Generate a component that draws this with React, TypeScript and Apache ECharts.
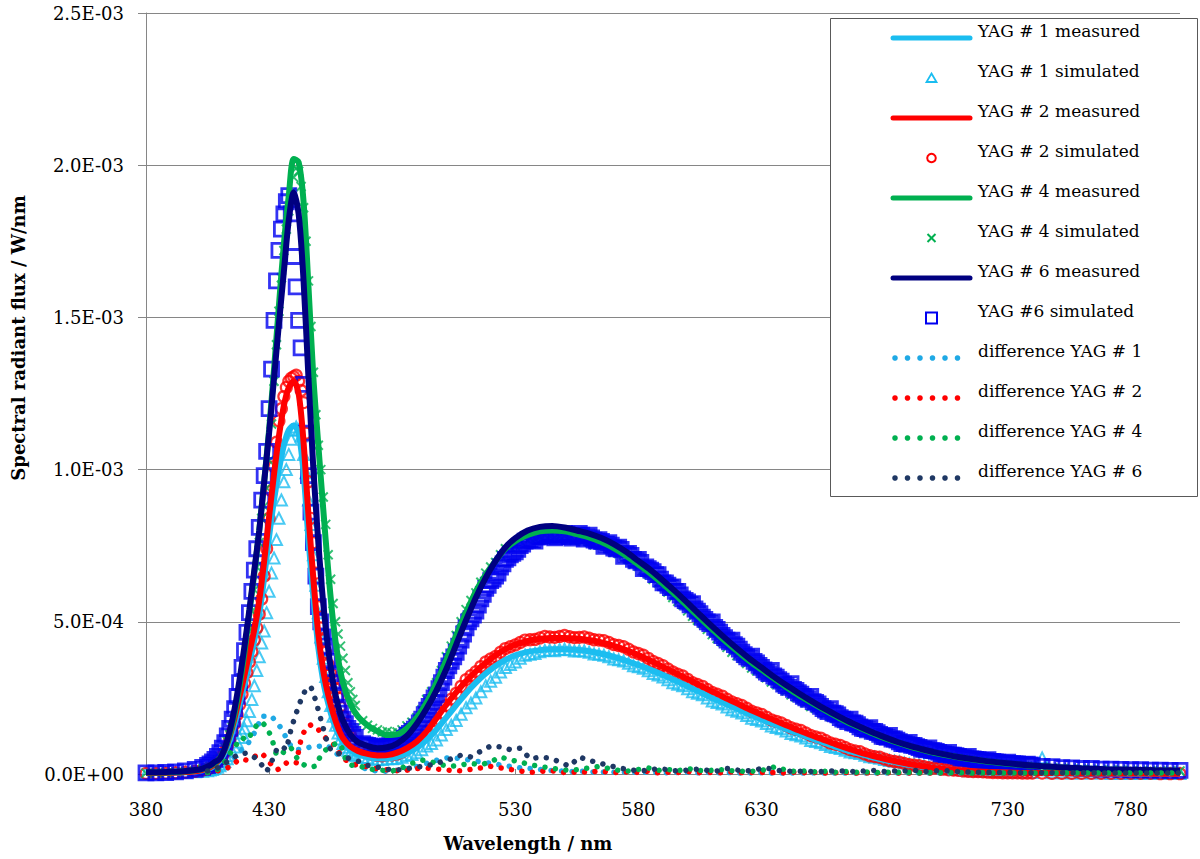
import React, { useEffect, useRef } from 'react';
import * as echarts from 'echarts';

// ---------- measured spectra (values in 1E-03 W/nm) ----------
const measWl = [
  380, 385, 390, 395, 400, 403, 406, 408,
  410, 412, 414, 416, 418, 420, 422, 424, 426, 428,
  430, 432, 434, 436, 438, 440, 442, 444, 446, 448,
  450, 452, 454, 456, 458, 460, 463, 466,
  470, 474, 478, 482, 486, 490, 494, 498, 502,
  506, 510, 514, 518, 522, 526, 530,
  535, 540, 545, 550, 555, 560, 565, 570, 575, 580,
  585, 590, 595, 600, 605, 610, 615, 620, 625, 630,
  635, 640, 645, 650, 655, 660, 665, 670, 675, 680,
  685, 690, 695, 700,
  710, 720, 730, 740, 750, 760, 770, 780, 790, 800,
];
const meas1 = [
  0.003, 0.003, 0.004, 0.005, 0.008, 0.012, 0.019, 0.029,
  0.044, 0.07, 0.11, 0.165, 0.23, 0.295, 0.365, 0.44, 0.525, 0.645,
  0.78, 0.9, 1.0, 1.08, 1.13, 1.145, 1.12, 0.99, 0.77, 0.58,
  0.415, 0.305, 0.232, 0.175, 0.133, 0.103, 0.078, 0.064,
  0.056, 0.051, 0.051, 0.056, 0.068, 0.086, 0.112, 0.146, 0.186,
  0.226, 0.265, 0.3, 0.33, 0.355, 0.375, 0.39,
  0.401, 0.407, 0.41, 0.41, 0.408, 0.403, 0.395, 0.385, 0.372, 0.358,
  0.342, 0.325, 0.307, 0.288, 0.269, 0.25, 0.232, 0.214, 0.197, 0.18,
  0.164, 0.148, 0.133, 0.118, 0.104, 0.09, 0.077, 0.066, 0.055, 0.046,
  0.038, 0.03, 0.024, 0.018,
  0.011, 0.006, 0.004, 0.003, 0.002, 0.002, 0.002, 0.001, 0.001, 0.001,
];
const meas2 = [
  0.003, 0.003, 0.004, 0.006, 0.009, 0.014, 0.022, 0.033,
  0.05, 0.08, 0.125, 0.185, 0.255, 0.325, 0.4, 0.475, 0.57, 0.7,
  0.845, 0.985, 1.11, 1.21, 1.27, 1.29, 1.25, 1.09, 0.85, 0.64,
  0.46, 0.34, 0.26, 0.2, 0.152, 0.118, 0.09, 0.076,
  0.066, 0.061, 0.062, 0.07, 0.085, 0.107, 0.14, 0.183, 0.228,
  0.268, 0.305, 0.337, 0.365, 0.39, 0.41, 0.425,
  0.437, 0.444, 0.447, 0.447, 0.445, 0.44, 0.432, 0.421, 0.407, 0.391,
  0.372, 0.352, 0.332, 0.312, 0.291, 0.271, 0.251, 0.232, 0.213, 0.195,
  0.177, 0.16, 0.144, 0.128, 0.113, 0.098, 0.084, 0.071, 0.06, 0.05,
  0.041, 0.033, 0.026, 0.02,
  0.012, 0.007, 0.005, 0.003, 0.003, 0.002, 0.002, 0.002, 0.001, 0.001,
];
const meas4 = [
  0.005, 0.005, 0.006, 0.008, 0.012, 0.017, 0.026, 0.037,
  0.052, 0.083, 0.13, 0.2, 0.29, 0.4, 0.53, 0.66, 0.8, 0.96,
  1.13, 1.33, 1.54, 1.74, 1.9, 2.02, 2.01, 1.88, 1.6, 1.3,
  1.08, 0.87, 0.67, 0.5, 0.38, 0.3, 0.23, 0.19,
  0.16, 0.14, 0.128, 0.13, 0.15, 0.185, 0.235, 0.3, 0.375,
  0.455, 0.53, 0.6, 0.655, 0.7, 0.74, 0.765,
  0.785, 0.797, 0.8, 0.797, 0.788, 0.777, 0.762, 0.742, 0.717, 0.688,
  0.658, 0.624, 0.589, 0.551, 0.513, 0.475, 0.439, 0.405, 0.372, 0.343,
  0.314, 0.286, 0.26, 0.236, 0.213, 0.191, 0.17, 0.152, 0.134, 0.118,
  0.104, 0.091, 0.08, 0.07,
  0.055, 0.043, 0.034, 0.027, 0.022, 0.018, 0.015, 0.013, 0.011, 0.01,
];
const meas6 = [
  0.006, 0.006, 0.007, 0.009, 0.013, 0.018, 0.028, 0.04,
  0.05, 0.085, 0.14, 0.215, 0.31, 0.42, 0.54, 0.67, 0.8, 0.96,
  1.12, 1.3, 1.48, 1.65, 1.82, 1.91, 1.84, 1.62, 1.3, 1.0,
  0.76, 0.56, 0.41, 0.3, 0.225, 0.175, 0.13, 0.105,
  0.092, 0.085, 0.088, 0.1, 0.125, 0.165, 0.215, 0.275, 0.345,
  0.425, 0.505, 0.58, 0.645, 0.7, 0.745, 0.775,
  0.8, 0.812, 0.815, 0.81, 0.8, 0.79, 0.775, 0.755, 0.73, 0.7,
  0.67, 0.636, 0.6, 0.562, 0.523, 0.485, 0.448, 0.413, 0.38, 0.35,
  0.32, 0.292, 0.266, 0.241, 0.217, 0.195, 0.174, 0.155, 0.137, 0.121,
  0.106, 0.093, 0.082, 0.072,
  0.056, 0.044, 0.035, 0.028, 0.023, 0.019, 0.016, 0.014, 0.012, 0.011,
];

// ---------- simulated spectra ----------
const simWl = [
  380, 384, 388, 392, 396, 400, 403,
  405, 406, 407, 408, 409, 410, 411, 412, 413, 414,
  415, 416, 417, 418, 419, 420, 421, 422, 423, 424,
  425, 426, 427, 428, 429, 430, 431, 432, 433, 434,
  435, 436, 437, 438, 439, 440, 441, 442, 443, 444,
  445, 446, 447, 448, 449, 450, 451, 452, 453, 454,
  455, 456, 457, 458, 459, 460, 461, 462, 463, 464,
  465,
  468, 472, 476, 480, 484, 488, 492, 496, 500, 504,
  508, 512, 516, 520, 524, 528, 532, 536, 540, 544,
  548, 552, 556, 560, 564, 568, 572, 576, 580, 584,
  588, 592, 596, 600, 604, 608, 612, 616, 620, 624,
  628, 632, 636, 640, 644, 648, 652, 656, 660, 664,
  668, 672, 676, 680, 684, 688, 692, 696, 700, 704,
  708, 712, 716, 720, 724, 728, 732, 736, 740, 744,
  748, 752, 756, 760, 764, 768, 772, 776, 780, 784,
  788, 792, 796, 800,
];
// in-between simulated wavelengths
const simWlB = [
  470, 474, 478, 482, 486, 490, 494, 498, 502, 506,
  510, 514, 518, 522, 526, 530, 534, 538, 542, 546,
  550, 554, 558, 562, 566, 570, 574, 578, 582, 586,
  590, 594, 598, 602, 606, 610, 614, 618, 622, 626,
  630, 634, 638, 642, 646, 650, 654, 658, 662, 666,
  670, 674, 678, 682, 686, 690, 694, 698, 702, 706,
  710, 714, 718, 722, 726, 730, 734, 738,
];
const simWlC = [
  469, 473, 477, 481, 485, 489, 493, 497, 501, 505,
  509, 513, 517, 521, 525, 529, 533, 537, 541, 545,
  549, 553, 557, 561, 565, 569, 573, 577, 581, 585,
  589, 593, 597, 601, 605, 609, 613, 617, 621, 625,
  629, 633, 637, 641, 645, 649, 653, 657, 661, 665,
  669, 673, 677, 681, 685, 689, 693, 697, 701, 705,
  709, 713, 717, 721, 725, 729, 733, 737,
];
const simWlD = [
  471, 475, 479, 483, 487, 491, 495, 499, 503, 507,
  511, 515, 519, 523, 527, 531, 535, 539, 543, 547,
  551, 555, 559, 563, 567, 571, 575, 579, 583, 587,
  591, 595, 599, 603, 607, 611, 615, 619, 623, 627,
  631, 635, 639, 643, 647, 651, 655, 659, 663, 667,
  671, 675, 679, 683, 687, 691, 695, 699, 703, 707,
  711, 715, 719, 723, 727, 731, 735, 739,
];
const sim1 = [
  0.002, 0.002, 0.003, 0.004, 0.005, 0.007, 0.009,
  0.011, 0.013, 0.015, 0.018, 0.022, 0.027, 0.033, 0.041, 0.05, 0.061,
  0.074, 0.089, 0.105, 0.12, 0.135, 0.15, 0.175, 0.205, 0.245, 0.29,
  0.34, 0.385, 0.43, 0.47, 0.53, 0.6, 0.66, 0.71, 0.77, 0.84,
  0.9, 0.96, 1.0, 1.05, 1.1, 1.13, 1.14, 1.13, 1.11, 1.05,
  0.99, 0.9, 0.82, 0.72, 0.62, 0.53, 0.45, 0.38, 0.32, 0.27,
  0.225, 0.19, 0.16, 0.135, 0.115, 0.1, 0.088, 0.078, 0.07, 0.064,
  0.06,
  0.054, 0.05, 0.048, 0.05, 0.055, 0.064, 0.08, 0.1, 0.128, 0.16,
  0.196, 0.233, 0.27, 0.305, 0.335, 0.36, 0.38, 0.393, 0.402, 0.407,
  0.409, 0.408, 0.405, 0.4, 0.393, 0.385, 0.375, 0.364, 0.352, 0.339,
  0.325, 0.31, 0.295, 0.28, 0.265, 0.25, 0.235, 0.22, 0.206, 0.192,
  0.179, 0.166, 0.153, 0.141, 0.129, 0.118, 0.107, 0.097, 0.087, 0.078,
  0.07, 0.062, 0.055, 0.048, 0.042, 0.036, 0.031, 0.027, 0.023, 0.019,
  0.016, 0.013, 0.011, 0.009, 0.008, 0.007, 0.006, 0.005, 0.005, 0.053,
  0.004, 0.004, 0.003, 0.003, 0.003, 0.003, 0.002, 0.002, 0.002, 0.002,
  0.002, 0.002, 0.002, 0.002,
];
const sim1B = [
  0.053, 0.047, 0.05, 0.051, 0.061, 0.07, 0.092, 0.112, 0.146, 0.176,
  0.218, 0.25, 0.29, 0.318, 0.35, 0.368, 0.39, 0.396, 0.406, 0.405,
  0.41, 0.404, 0.404, 0.394, 0.39, 0.378, 0.371, 0.356, 0.347, 0.33,
  0.319, 0.3, 0.29, 0.27, 0.26, 0.24, 0.23, 0.211, 0.2, 0.183,
  0.174, 0.158, 0.149, 0.133, 0.125, 0.11, 0.103, 0.09, 0.084, 0.072,
  0.067, 0.057, 0.052, 0.044, 0.04, 0.033, 0.03, 0.024, 0.022, 0.017,
  0.015, 0.011, 0.01, 0.008, 0.008, 0.006, 0.006, 0.005,
];
const sim2 = [
  0.002, 0.002, 0.003, 0.004, 0.006, 0.009, 0.013,
  0.017, 0.02, 0.025, 0.031, 0.039, 0.048, 0.06, 0.074, 0.092, 0.113,
  0.138, 0.165, 0.195, 0.228, 0.262, 0.298, 0.333, 0.368, 0.402, 0.44,
  0.48, 0.525, 0.575, 0.65, 0.74, 0.84, 0.93, 1.01, 1.09, 1.16,
  1.2, 1.24, 1.27, 1.29, 1.3, 1.305, 1.31, 1.29, 1.26, 1.22,
  1.12, 0.96, 0.84, 0.76, 0.66, 0.55, 0.48, 0.44, 0.4, 0.36,
  0.33, 0.31, 0.28, 0.25, 0.22, 0.19, 0.165, 0.145, 0.128, 0.113,
  0.1,
  0.078, 0.065, 0.06, 0.063, 0.073, 0.092, 0.12, 0.158, 0.2, 0.246,
  0.288, 0.323, 0.353, 0.378, 0.4, 0.418, 0.432, 0.441, 0.447, 0.45,
  0.452, 0.451, 0.449, 0.446, 0.44, 0.432, 0.422, 0.41, 0.396, 0.38,
  0.363, 0.345, 0.328, 0.311, 0.294, 0.278, 0.262, 0.246, 0.231, 0.216,
  0.201, 0.187, 0.173, 0.16, 0.147, 0.135, 0.122, 0.11, 0.098, 0.087,
  0.076, 0.066, 0.057, 0.049, 0.041, 0.035, 0.029, 0.024, 0.02, 0.016,
  0.013, 0.01, 0.008, 0.007, 0.005, 0.004, 0.004, 0.003, 0.003, 0.003,
  0.002, 0.002, 0.002, 0.002, 0.002, 0.002, 0.002, 0.002, 0.002, 0.002,
  0.002, 0.001, 0.001, 0.001,
];
const sim2B = [
  0.07, 0.061, 0.063, 0.066, 0.083, 0.104, 0.14, 0.175, 0.225, 0.265,
  0.31, 0.336, 0.368, 0.386, 0.412, 0.424, 0.44, 0.442, 0.452, 0.449,
  0.455, 0.448, 0.45, 0.441, 0.438, 0.425, 0.418, 0.401, 0.39, 0.37,
  0.356, 0.335, 0.322, 0.3, 0.288, 0.268, 0.256, 0.237, 0.225, 0.206,
  0.196, 0.178, 0.168, 0.152, 0.143, 0.127, 0.118, 0.102, 0.094, 0.08,
  0.073, 0.06, 0.055, 0.044, 0.039, 0.031, 0.027, 0.021, 0.019, 0.014,
  0.012, 0.009, 0.008, 0.006, 0.005, 0.004, 0.004, 0.003,
];
const sim4 = [
  0.003, 0.003, 0.004, 0.005, 0.007, 0.011, 0.016,
  0.021, 0.025, 0.03, 0.037, 0.046, 0.057, 0.071, 0.088, 0.108, 0.13,
  0.155, 0.185, 0.22, 0.26, 0.305, 0.355, 0.41, 0.47, 0.535, 0.605,
  0.68, 0.76, 0.84, 0.88, 0.94, 1.03, 1.15, 1.29, 1.41, 1.52,
  1.63, 1.72, 1.79, 1.85, 1.91, 1.96, 1.99, 1.98, 1.93, 1.86,
  1.75, 1.62, 1.47, 1.32, 1.18, 1.08, 1.0, 0.91, 0.82, 0.72,
  0.64, 0.56, 0.5, 0.46, 0.42, 0.38, 0.34, 0.3, 0.27, 0.245,
  0.225,
  0.175, 0.15, 0.138, 0.135, 0.145, 0.17, 0.21, 0.27, 0.34, 0.42,
  0.5, 0.57, 0.63, 0.68, 0.72, 0.745, 0.765, 0.775, 0.78, 0.782,
  0.78, 0.775, 0.77, 0.762, 0.752, 0.74, 0.724, 0.705, 0.682, 0.656,
  0.628, 0.598, 0.567, 0.536, 0.505, 0.475, 0.445, 0.416, 0.389, 0.363,
  0.339, 0.316, 0.294, 0.273, 0.253, 0.234, 0.216, 0.199, 0.183, 0.168,
  0.153, 0.14, 0.127, 0.115, 0.104, 0.094, 0.085, 0.076, 0.069, 0.062,
  0.056, 0.05, 0.045, 0.041, 0.037, 0.033, 0.03, 0.027, 0.025, 0.023,
  0.021, 0.019, 0.018, 0.016, 0.015, 0.014, 0.013, 0.013, 0.012, 0.011,
  0.011, 0.01, 0.01, 0.01,
];
const sim4B = [
  0.16, 0.145, 0.14, 0.138, 0.158, 0.185, 0.245, 0.3, 0.385, 0.455,
  0.54, 0.595, 0.66, 0.695, 0.74, 0.75, 0.775, 0.772, 0.786, 0.776,
  0.782, 0.768, 0.77, 0.753, 0.75, 0.728, 0.72, 0.69, 0.672, 0.64,
  0.617, 0.58, 0.556, 0.518, 0.495, 0.458, 0.434, 0.4, 0.38, 0.348,
  0.33, 0.302, 0.286, 0.26, 0.246, 0.222, 0.21, 0.189, 0.177, 0.158,
  0.148, 0.132, 0.123, 0.108, 0.1, 0.088, 0.082, 0.071, 0.067, 0.058,
  0.054, 0.047, 0.044, 0.038, 0.036, 0.031, 0.029, 0.026,
];
const sim6 = [
  0.004, 0.004, 0.005, 0.007, 0.01, 0.015, 0.022,
  0.028, 0.033, 0.04, 0.048, 0.058, 0.07, 0.085, 0.103, 0.125, 0.15,
  0.18, 0.215, 0.255, 0.3, 0.35, 0.405, 0.465, 0.53, 0.6, 0.67,
  0.74, 0.81, 0.9, 0.98, 1.06, 1.2, 1.33, 1.49, 1.62, 1.72,
  1.79, 1.84, 1.88, 1.9, 1.84, 1.7, 1.6, 1.49, 1.4, 1.28,
  1.12, 0.98, 0.86, 0.76, 0.65, 0.55, 0.5, 0.45, 0.42, 0.37,
  0.33, 0.3, 0.26, 0.22, 0.2, 0.18, 0.165, 0.15, 0.14, 0.13,
  0.12,
  0.1, 0.09, 0.088, 0.095, 0.11, 0.14, 0.18, 0.235, 0.3, 0.37,
  0.44, 0.51, 0.575, 0.635, 0.68, 0.72, 0.75, 0.77, 0.78, 0.785,
  0.785, 0.78, 0.79, 0.785, 0.77, 0.76, 0.745, 0.725, 0.705, 0.675,
  0.655, 0.62, 0.6, 0.565, 0.535, 0.5, 0.475, 0.44, 0.42, 0.385,
  0.365, 0.335, 0.318, 0.29, 0.275, 0.25, 0.235, 0.21, 0.198, 0.178,
  0.167, 0.149, 0.14, 0.123, 0.115, 0.1, 0.094, 0.082, 0.077, 0.066,
  0.062, 0.053, 0.05, 0.043, 0.041, 0.036, 0.034, 0.03, 0.029, 0.025,
  0.024, 0.021, 0.02, 0.018, 0.018, 0.016, 0.016, 0.015, 0.014, 0.014,
  0.013, 0.013, 0.012, 0.012,
];
const sim6B = [
  0.094, 0.085, 0.092, 0.1, 0.128, 0.155, 0.21, 0.26, 0.34, 0.4,
  0.48, 0.535, 0.61, 0.65, 0.705, 0.73, 0.765, 0.765, 0.788, 0.776,
  0.79, 0.782, 0.772, 0.768, 0.748, 0.742, 0.715, 0.705, 0.675, 0.665,
  0.628, 0.615, 0.575, 0.56, 0.515, 0.5, 0.455, 0.44, 0.4, 0.387,
  0.35, 0.34, 0.305, 0.297, 0.262, 0.255, 0.222, 0.215, 0.185, 0.18,
  0.155, 0.152, 0.13, 0.127, 0.106, 0.104, 0.087, 0.086, 0.071, 0.071,
  0.058, 0.058, 0.047, 0.047, 0.039, 0.039, 0.033, 0.032,
];
const sim6C = [
  0.096, 0.088, 0.088, 0.097, 0.118, 0.147, 0.195, 0.25, 0.318, 0.385,
  0.46, 0.522, 0.59, 0.64, 0.69, 0.725, 0.755, 0.768, 0.782, 0.785,
  0.787, 0.775, 0.785, 0.776, 0.764, 0.752, 0.738, 0.718, 0.695, 0.67,
  0.64, 0.612, 0.588, 0.556, 0.527, 0.494, 0.466, 0.434, 0.41, 0.38,
  0.357, 0.33, 0.31, 0.285, 0.267, 0.245, 0.23, 0.205, 0.194, 0.172,
  0.162, 0.145, 0.136, 0.12, 0.111, 0.097, 0.09, 0.079, 0.074, 0.064,
  0.06, 0.052, 0.048, 0.043, 0.04, 0.035, 0.033, 0.03,
];
const sim6D = [
  0.092, 0.086, 0.093, 0.104, 0.133, 0.168, 0.222, 0.28, 0.355, 0.42,
  0.5, 0.555, 0.62, 0.66, 0.71, 0.738, 0.768, 0.778, 0.79, 0.78,
  0.788, 0.784, 0.778, 0.765, 0.755, 0.74, 0.722, 0.7, 0.68, 0.655,
  0.628, 0.6, 0.57, 0.542, 0.508, 0.482, 0.448, 0.425, 0.392, 0.37,
  0.342, 0.322, 0.295, 0.278, 0.255, 0.238, 0.215, 0.2, 0.18, 0.168,
  0.15, 0.14, 0.124, 0.115, 0.1, 0.094, 0.082, 0.077, 0.066, 0.062,
  0.053, 0.05, 0.044, 0.041, 0.036, 0.034, 0.03, 0.029,
];

// ---------- differences ----------
const diffWl = [
  405, 407, 409, 411, 413, 415, 417, 419, 421, 423,
  425, 427, 429, 431, 433, 435, 437, 439, 441, 443,
  445, 447, 449, 451, 453, 455, 457, 459, 461, 463,
  465, 467, 469,
  472, 476, 480, 484, 488, 492, 496, 500, 504, 508,
  512, 516, 520, 524, 528, 532, 536, 540, 544, 548,
  552, 556, 560, 564, 568, 572, 576, 580, 584, 588,
  592, 596, 600, 604, 608, 612, 616, 620, 624, 628,
  632, 636, 640, 644, 648, 652, 656, 660, 664, 668,
  672, 676, 680, 684, 688, 692, 696, 700, 704, 708,
  712, 716, 720, 724, 728, 732, 736, 740, 744, 748,
  752, 756, 760, 764, 768, 772, 776, 780, 784, 788,
  792, 796, 800,
];
const diff1 = [
  0.005, 0.008, 0.012, 0.02, 0.03, 0.045, 0.065, 0.08, 0.095, 0.12,
  0.15, 0.19, 0.19, 0.19, 0.17, 0.15, 0.118, 0.09, 0.079, 0.082,
  0.085, 0.089, 0.09, 0.092, 0.095, 0.085, 0.07, 0.056, 0.05, 0.04,
  0.03, 0.023, 0.018,
  0.012, 0.008, 0.01, 0.015, 0.02, 0.03, 0.04, 0.05, 0.055, 0.05,
  0.045, 0.04, 0.035, 0.03, 0.025, 0.02, 0.018, 0.015, 0.012, 0.01,
  0.008, 0.01, 0.006, 0.008, 0.005, 0.007, 0.006, 0.005, 0.006, 0.005,
  0.004, 0.005, 0.006, 0.004, 0.005, 0.004, 0.005, 0.004, 0.003, 0.004,
  0.004, 0.003, 0.004, 0.003, 0.003, 0.004, 0.003, 0.003, 0.003, 0.003,
  0.003, 0.003, 0.003, 0.003, 0.003, 0.003, 0.003, 0.003, 0.003, 0.003,
  0.003, 0.003, 0.003, 0.003, 0.003, 0.002, 0.002, 0.002, 0.002, 0.002,
  0.002, 0.002, 0.002, 0.002, 0.002, 0.002, 0.002, 0.002, 0.002, 0.002,
  0.002, 0.002, 0.002,
];
const diff2 = [
  0.005, 0.008, 0.01, 0.015, 0.02, 0.026, 0.043, 0.05, 0.045, 0.055,
  0.06, 0.069, 0.05, 0.03, 0.013, 0.02, 0.036, 0.04, 0.036, 0.115,
  0.154, 0.161, 0.158, 0.135, 0.118, 0.1, 0.095, 0.06, 0.046, 0.04,
  0.03, 0.03, 0.025,
  0.02, 0.015, 0.012, 0.01, 0.015, 0.02, 0.018, 0.015, 0.012, 0.01,
  0.015, 0.02, 0.025, 0.02, 0.015, 0.01, 0.005, 0.008, 0.012, 0.006,
  0.004, 0.008, 0.005, 0.01, 0.006, 0.004, 0.007, 0.005, 0.009, 0.004,
  0.006, 0.005, 0.008, 0.004, 0.006, 0.003, 0.007, 0.005, 0.004, 0.006,
  0.004, 0.005, 0.003, 0.006, 0.004, 0.005, 0.003, 0.004, 0.005, 0.003,
  0.004, 0.003, 0.005, 0.003, 0.004, 0.003, 0.003, 0.004, 0.003, 0.003,
  0.003, 0.002, 0.003, 0.002, 0.003, 0.002, 0.002, 0.003, 0.002, 0.002,
  0.002, 0.002, 0.002, 0.002, 0.002, 0.002, 0.002, 0.002, 0.002, 0.002,
  0.002, 0.002, 0.002,
];
const diff4 = [
  0.005, 0.01, 0.015, 0.03, 0.05, 0.08, 0.1, 0.12, 0.11, 0.135,
  0.161, 0.171, 0.154, 0.12, 0.062, 0.062, 0.085, 0.085, 0.056, 0.036,
  0.026, 0.023, 0.026, 0.062, 0.079, 0.089, 0.1, 0.1, 0.05, 0.03,
  0.026, 0.026, 0.02,
  0.015, 0.012, 0.01, 0.02, 0.035, 0.046, 0.04, 0.03, 0.025, 0.03,
  0.035, 0.03, 0.04, 0.056, 0.046, 0.04, 0.03, 0.025, 0.02, 0.015,
  0.012, 0.015, 0.02, 0.025, 0.018, 0.012, 0.01, 0.015, 0.02, 0.012,
  0.015, 0.01, 0.018, 0.012, 0.01, 0.015, 0.012, 0.01, 0.008, 0.01,
  0.015, 0.025, 0.012, 0.008, 0.01, 0.007, 0.009, 0.006, 0.008, 0.006,
  0.007, 0.005, 0.006, 0.005, 0.006, 0.005, 0.004, 0.005, 0.004, 0.004,
  0.004, 0.003, 0.004, 0.003, 0.003, 0.003, 0.003, 0.003, 0.003, 0.003,
  0.003, 0.003, 0.003, 0.003, 0.003, 0.003, 0.003, 0.003, 0.003, 0.003,
  0.003, 0.003, 0.003,
];
const diff6 = [
  0.01, 0.015, 0.02, 0.03, 0.04, 0.05, 0.062, 0.066, 0.069, 0.06,
  0.05, 0.03, 0.008, 0.04, 0.079, 0.092, 0.08, 0.15, 0.2, 0.245,
  0.28, 0.286, 0.24, 0.18, 0.12, 0.08, 0.07, 0.065, 0.055, 0.05,
  0.045, 0.04, 0.03,
  0.025, 0.02, 0.012, 0.015, 0.02, 0.025, 0.03, 0.04, 0.05, 0.062,
  0.056, 0.075, 0.092, 0.089, 0.08, 0.085, 0.05, 0.055, 0.052, 0.04,
  0.025, 0.056, 0.045, 0.036, 0.028, 0.02, 0.015, 0.01, 0.012, 0.018,
  0.014, 0.01, 0.013, 0.016, 0.012, 0.01, 0.018, 0.013, 0.01, 0.015,
  0.02, 0.012, 0.01, 0.008, 0.01, 0.007, 0.009, 0.01, 0.01, 0.008,
  0.01, 0.012, 0.008, 0.01, 0.01, 0.012, 0.008, 0.01, 0.012, 0.009,
  0.007, 0.006, 0.006, 0.005, 0.005, 0.005, 0.004, 0.004, 0.004, 0.004,
  0.004, 0.004, 0.004, 0.004, 0.003, 0.003, 0.003, 0.003, 0.003, 0.003,
  0.003, 0.003, 0.003,
];

const legendLabels = [
  'YAG # 1 measured',
  'YAG # 1 simulated',
  'YAG # 2 measured',
  'YAG # 2 simulated',
  'YAG # 4 measured',
  'YAG # 4 simulated',
  'YAG # 6 measured',
  'YAG #6 simulated',
  'difference YAG # 1',
  'difference YAG # 2',
  'difference YAG # 4',
  'difference YAG # 6',
];

const C_CYAN = '#1BBDF0';
const C_CYAN_DOT = '#1FA9E5';
const C_RED = '#FF0000';
const C_GREEN = '#00B050';
const C_NAVY = '#000080';
const C_BLUE = '#0000F0';
const C_DARK = '#1F3864';

const FONT = '"DejaVu Serif", "Liberation Serif", serif';
const X_SYMBOL = 'path://M0,0L10,10M10,0L0,10';

function pairs(xs: number[], ys: number[]) {
  const n = Math.min(xs.length, ys.length);
  const out: number[][] = [];
  for (let i = 0; i < n; i++) out.push([xs[i], ys[i]]);
  return out;
}

function fmtExp(v: number) {
  const w = v * 1e-3;
  if (Math.abs(w) < 1e-12) return '0.0E+00';
  const s = w.toExponential(1);
  const [m, e] = s.split('e');
  const n = parseInt(e, 10);
  return m + 'E' + (n < 0 ? '-' : '+') + String(Math.abs(n)).padStart(2, '0');
}

function lineSeries(name: string, xs: number[], ys: number[], color: string) {
  return {
    name,
    type: 'line',
    data: pairs(xs, ys),
    showSymbol: false,
    smooth: 0.3,
    lineStyle: { color, width: 6 },
    itemStyle: { color },
  };
}

function scatterSeries(name: string, data: number[][], color: string, symbol: string, size: number, bw: number) {
  return {
    name,
    type: 'scatter',
    data,
    symbol,
    symbolSize: size,
    itemStyle: { color: 'rgba(255,255,255,0)', borderColor: color, borderWidth: bw },
  };
}

function dotSeries(name: string, xs: number[], ys: number[], color: string) {
  return {
    name,
    type: 'line',
    data: pairs(xs, ys),
    showSymbol: false,
    smooth: false,
    lineStyle: { color, width: 5.5, type: [0.01, 10.5], cap: 'round' },
    itemStyle: { color },
  };
}

function buildLegend() {
  const els: any[] = [];
  els.push({
    type: 'rect',
    z: 100,
    shape: { x: 830.5, y: 18.5, width: 367, height: 478 },
    style: { fill: '#ffffff', stroke: '#595959', lineWidth: 1 },
  });
  const cx = 931.5;
  const lineColors: Record<number, string> = { 0: C_CYAN, 2: C_RED, 4: C_GREEN, 6: C_NAVY };
  const dotColors: Record<number, string> = { 8: C_CYAN_DOT, 9: C_RED, 10: C_GREEN, 11: C_DARK };
  legendLabels.forEach((label, i) => {
    const ty = 31 + 40 * i;
    const iy = ty + 7;
    els.push({
      type: 'text',
      z: 101,
      x: 978,
      y: ty,
      style: {
        text: label,
        fill: '#000',
        fontFamily: FONT,
        fontSize: 17,
        align: 'left',
        verticalAlign: 'middle',
        textAlign: 'left',
        textVerticalAlign: 'middle',
      },
    });
    if (lineColors[i]) {
      els.push({
        type: 'line',
        z: 101,
        shape: { x1: 893, y1: iy, x2: 970, y2: iy },
        style: { stroke: lineColors[i], lineWidth: 5, lineCap: 'round' },
      });
    } else if (dotColors[i]) {
      for (let k = 0; k < 6; k++) {
        els.push({
          type: 'circle',
          z: 101,
          shape: { cx: 895 + 12.5 * k, cy: iy, r: 2.8 },
          style: { fill: dotColors[i] },
        });
      }
    } else if (i === 1) {
      els.push({
        type: 'polygon',
        z: 101,
        shape: { points: [[cx, iy - 4.5], [cx + 5, iy + 4], [cx - 5, iy + 4]] },
        style: { fill: 'none', stroke: C_CYAN, lineWidth: 1.8 },
      });
    } else if (i === 3) {
      els.push({
        type: 'circle',
        z: 101,
        shape: { cx, cy: iy, r: 4.3 },
        style: { fill: 'none', stroke: C_RED, lineWidth: 2 },
      });
    } else if (i === 5) {
      els.push({ type: 'line', z: 101, shape: { x1: cx - 4, y1: iy - 4, x2: cx + 4, y2: iy + 4 }, style: { stroke: C_GREEN, lineWidth: 2 } });
      els.push({ type: 'line', z: 101, shape: { x1: cx - 4, y1: iy + 4, x2: cx + 4, y2: iy - 4 }, style: { stroke: C_GREEN, lineWidth: 2 } });
    } else if (i === 7) {
      els.push({
        type: 'rect',
        z: 101,
        shape: { x: cx - 5.5, y: iy - 5.5, width: 11, height: 11 },
        style: { fill: 'none', stroke: C_BLUE, lineWidth: 2 },
      });
    }
  });
  els.push({
    type: 'text',
    z: 101,
    x: 18,
    y: 338,
    rotation: Math.PI / 2,
    style: {
      text: 'Spectral radiant flux / W/nm',
      fill: '#000',
      fontFamily: FONT,
      fontSize: 18,
      fontWeight: 'bold',
      align: 'center',
      verticalAlign: 'middle',
      textAlign: 'center',
      textVerticalAlign: 'middle',
    },
  });
  els.push({
    type: 'text',
    z: 101,
    x: 528,
    y: 843,
    style: {
      text: 'Wavelength / nm',
      fill: '#000',
      fontFamily: FONT,
      fontSize: 18,
      fontWeight: 'bold',
      align: 'center',
      verticalAlign: 'middle',
      textAlign: 'center',
      textVerticalAlign: 'middle',
    },
  });
  return els;
}

export default function App() {
  const ref = useRef<HTMLDivElement>(null);
  useEffect(() => {
    if (!ref.current) return;
    const chart = echarts.init(ref.current, null, { renderer: 'svg' });
    const axisGray = '#868686';
    const squares = pairs(simWl, sim6)
      .concat(pairs(simWlB, sim6B))
      .concat(pairs(simWlC, sim6C))
      .concat(pairs(simWlD, sim6D));
    chart.setOption({
      animation: false,
      backgroundColor: '#ffffff',
      grid: { left: 146, right: 20, top: 13, bottom: 85, containLabel: false },
      xAxis: {
        type: 'value',
        min: 380,
        max: 800,
        interval: 50,
        axisLine: { show: true, lineStyle: { color: axisGray, width: 1 } },
        axisTick: { show: true, inside: true, length: 5, lineStyle: { color: axisGray } },
        axisLabel: { color: '#000', fontFamily: FONT, fontSize: 18, margin: 26, showMaxLabel: false },
        splitLine: { show: false },
      },
      yAxis: {
        type: 'value',
        min: 0,
        max: 2.5,
        interval: 0.5,
        axisLine: { show: true, lineStyle: { color: axisGray, width: 1 } },
        axisTick: { show: true, inside: false, length: 8, lineStyle: { color: axisGray } },
        axisLabel: { color: '#000', fontFamily: FONT, fontSize: 18, margin: 22, formatter: fmtExp },
        splitLine: { show: true, lineStyle: { color: axisGray, width: 1 } },
      },
      series: [
        lineSeries(legendLabels[0], measWl, meas1, C_CYAN),
        lineSeries(legendLabels[2], measWl, meas2, C_RED),
        lineSeries(legendLabels[4], measWl, meas4, C_GREEN),
        lineSeries(legendLabels[6], measWl, meas6, C_NAVY),
        scatterSeries(legendLabels[1], pairs(simWl, sim1).concat(pairs(simWlB, sim1B)), C_CYAN, 'triangle', 11, 2),
        scatterSeries(legendLabels[3], pairs(simWl, sim2).concat(pairs(simWlB, sim2B)), C_RED, 'circle', 11, 2.2),
        scatterSeries(legendLabels[5], pairs(simWl, sim4).concat(pairs(simWlB, sim4B)), C_GREEN, X_SYMBOL, 9, 2),
        scatterSeries(legendLabels[7], squares, C_BLUE, 'rect', 14, 2.8),
        dotSeries(legendLabels[8], diffWl, diff1, C_CYAN_DOT),
        dotSeries(legendLabels[9], diffWl, diff2, C_RED),
        dotSeries(legendLabels[10], diffWl, diff4, C_GREEN),
        dotSeries(legendLabels[11], diffWl, diff6, C_DARK),
      ],
      graphic: { elements: buildLegend() },
    });
    return () => chart.dispose();
  }, []);
  return (
    <div
      ref={ref}
      style={{ position: 'fixed', left: 0, top: 0, width: 1200, height: 859, background: '#fff' }}
    />
  );
}
